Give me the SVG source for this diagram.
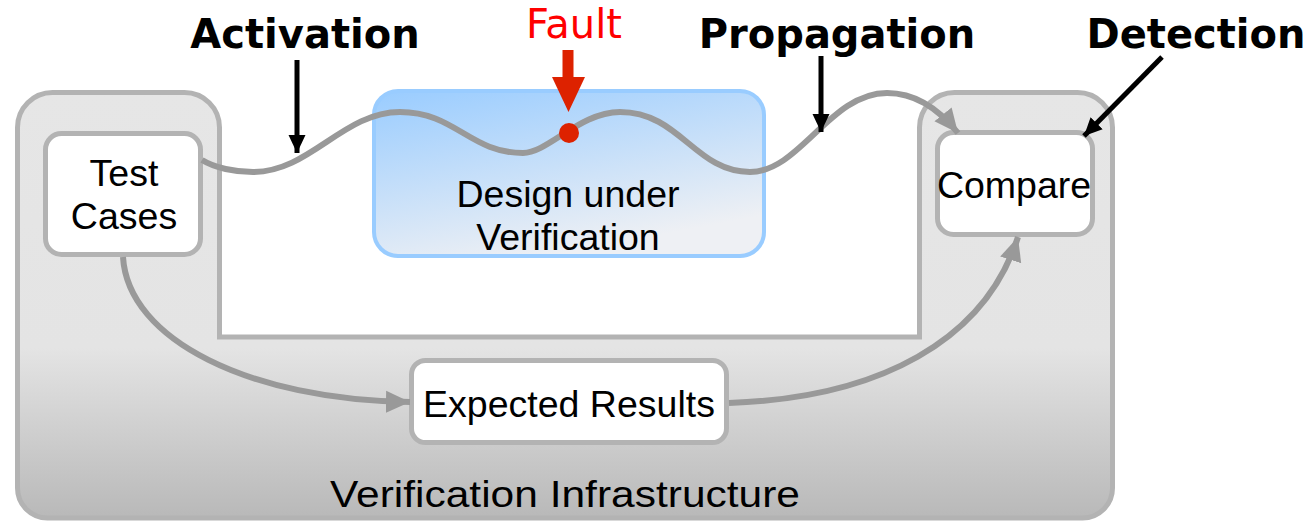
<svg xmlns="http://www.w3.org/2000/svg" width="1309" height="523" viewBox="0 0 1309 523">
  <defs>
    <linearGradient id="infraFill" gradientUnits="userSpaceOnUse" x1="0" y1="90" x2="0" y2="520">
      <stop offset="0" stop-color="#e6e6e6"/>
      <stop offset="0.6" stop-color="#e4e4e4"/>
      <stop offset="1" stop-color="#b8b8b8"/>
    </linearGradient>
    <linearGradient id="duvFill" x1="0" y1="0" x2="0.45" y2="1">
      <stop offset="0" stop-color="#99ccff"/>
      <stop offset="1" stop-color="#eef0f4"/>
    </linearGradient>
    <marker id="grayHead" markerUnits="userSpaceOnUse" markerWidth="26" markerHeight="26" viewBox="0 0 26 26" refX="24" refY="13" orient="auto">
      <path d="M0,2 L24,13 L0,24 Z" fill="#999999"/>
    </marker>
    <marker id="blackHead" markerUnits="userSpaceOnUse" markerWidth="20" markerHeight="20" viewBox="0 0 20 20" refX="18" refY="10" orient="auto">
      <path d="M0,1.5 L18,10 L0,18.5 Z" fill="#000000"/>
    </marker>
    <style>
      .box { fill: #ffffff; stroke: #b3b3b3; stroke-width: 5; }
      .body { font-family: "Liberation Sans", Arial, sans-serif; font-size: 37.5px; fill: #000000; text-anchor: middle; }
      .label { font-family: "DejaVu Sans", Verdana, sans-serif; font-weight: bold; font-size: 40px; fill: #000000; text-anchor: middle; }
      .flow { fill: none; stroke: #999999; stroke-width: 6; }
      .pointer { fill: none; stroke: #000000; stroke-width: 5; }
    </style>
  </defs>

  <!-- U-shaped verification infrastructure -->
  <g id="infrastructure">
    <path d="M17.5,127.5 A35,35 0 0 1 52.5,92.5 H184.5 A35,35 0 0 1 219.5,127.5 V337 H919.5 V127.5 A35,35 0 0 1 954.5,92.5 H1077.5 A35,35 0 0 1 1112.5,127.5 V488 A30,30 0 0 1 1082.5,518 H47.5 A30,30 0 0 1 17.5,488 Z" fill="url(#infraFill)" stroke="#b3b3b3" stroke-width="5"/>
    <text class="body" x="565" y="507" font-size="43" textLength="470" lengthAdjust="spacingAndGlyphs">Verification Infrastructure</text>
  </g>

  <g id="duv">
    <rect x="374" y="91" width="390" height="165" rx="24" fill="url(#duvFill)" stroke="#99ccff" stroke-width="4"/>
    <text class="body" x="568" y="207">Design under</text>
    <text class="body" x="568" y="250">Verification</text>
  </g>

  <g id="test-cases">
    <rect class="box" x="45.5" y="133.5" width="155" height="121" rx="16"/>
    <text class="body" x="124" y="186">Test</text>
    <text class="body" x="124" y="229">Cases</text>
  </g>

  <g id="compare">
    <rect class="box" x="937.5" y="132.5" width="155" height="102" rx="16"/>
    <text class="body" x="1014" y="198">Compare</text>
  </g>

  <g id="expected-results">
    <rect class="box" x="411.5" y="360.5" width="315" height="82" rx="14"/>
    <text class="body" x="569" y="417">Expected Results</text>
  </g>

  <g id="connectors">
    <!-- stimulus path through the design -->
    <path class="flow" marker-end="url(#grayHead)" d="M202,160 C215,168 235,172 253,172 C310,172 343,112 400,112 C455,112 470,153 523,153 C548,153 580,112 620,112 C680,112 695,172 750,172 C800,172 830,93 887,93 C915,93 938,108 958,133"/>
    <path class="flow" marker-end="url(#grayHead)" d="M123,257 C128,340 250,400 410,402"/>
    <path class="flow" marker-end="url(#grayHead)" d="M729,403 C880,398 985,340 1018,237"/>
    <!-- phase pointers -->
    <path class="pointer" marker-end="url(#blackHead)" d="M297,60 V153"/>
    <path class="pointer" marker-end="url(#blackHead)" d="M821,56 V132"/>
    <path class="pointer" marker-end="url(#blackHead)" d="M1162,57 L1084,136"/>
  </g>

  <g id="fault">
    <text x="574" y="38" font-family="'DejaVu Sans', Verdana, sans-serif" font-size="40" fill="#ff0000" text-anchor="middle">Fault</text>
    <rect x="562.5" y="50" width="11" height="30" fill="#dd2200"/>
    <path d="M552,77 H585 L568.5,112 Z" fill="#dd2200"/>
    <circle cx="569" cy="133" r="10" fill="#dd2200"/>
  </g>

  <g id="phase-labels">
    <text class="label" x="305" y="48">Activation</text>
    <text class="label" x="837" y="48">Propagation</text>
    <text class="label" x="1196" y="48">Detection</text>
  </g>
</svg>
